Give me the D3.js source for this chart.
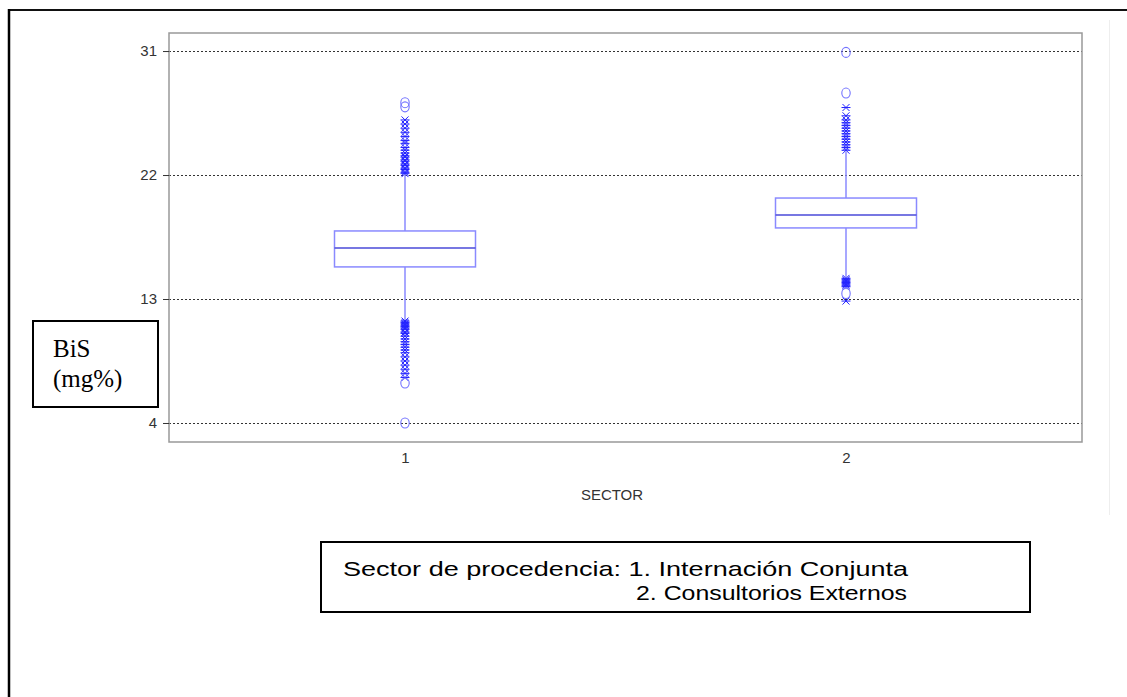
<!DOCTYPE html>
<html>
<head>
<meta charset="utf-8">
<script src="https://cdn.jsdelivr.net/npm/d3@7/dist/d3.min.js"></script>
<style>
  html, body { margin: 0; padding: 0; background: #fff; }
  svg { display: block; }
</style>
</head>
<body>
<svg id="chart" width="1127" height="697"></svg>
<script>
// ---- data ----
const categories = ["1", "2"];
const yTicks = [4, 13, 22, 31];
// box statistics per sector
const q1 = [15.33, 18.16];
const median = [16.70, 19.10];
const q3 = [17.94, 20.33];
const whiskerLow = [11.48, 14.6];
const whiskerHigh = [22.0, 23.7];
// outside values (asterisks)
const starsSector1 = [22.1, 22.2, 22.4, 22.5, 22.7, 22.8, 23.0, 23.1, 23.3, 23.4, 23.6, 23.8, 24.0, 24.3, 24.5, 24.8, 25.1, 25.4, 25.7, 26.0,
                      11.4, 11.3, 11.2, 11.1, 11.0, 10.9, 10.8, 10.6, 10.5, 10.3, 10.1, 9.9, 9.7, 9.5, 9.3, 9.1, 8.8, 8.5, 8.2, 7.9, 7.6, 7.3];
const starsSector2 = [23.8, 24.0, 24.2, 24.4, 24.6, 24.8, 25.0, 25.2, 25.4, 25.6, 25.8, 26.0, 26.3, 26.9,
                      14.5, 14.4, 14.3, 14.2, 14.1, 14.0, 13.9, 12.85];
// far-out values (circles)
const circlesSector1 = [27.25, 26.95, 6.9, 4.0];
const circlesSector2 = [30.9, 27.95, 13.4];

const stars = [starsSector1, starsSector2];
const circles = [circlesSector1, circlesSector2];

// ---- layout ----
const svg = d3.select("#chart");
const plot = { left: 169, right: 1082, top: 33, bottom: 442 };

const y = d3.scaleLinear().domain([2.62, 32.31]).range([plot.bottom, plot.top]);
const x = d3.scalePoint().domain(categories).range([405, 846]);
const boxW = 141;
const sans = "Liberation Sans, Arial, sans-serif";
const serif = "Liberation Serif, Times New Roman, serif";

// outer page frame
svg.append("line").attr("x1", 8).attr("x2", 1127).attr("y1", 10).attr("y2", 10)
  .attr("stroke", "#111").attr("stroke-width", 2.2);
svg.append("line").attr("x1", 9).attr("x2", 9).attr("y1", 9).attr("y2", 697)
  .attr("stroke", "#000").attr("stroke-width", 2.5);
svg.append("line").attr("x1", 1109.5).attr("x2", 1109.5).attr("y1", 20).attr("y2", 515)
  .attr("stroke", "#eee").attr("stroke-width", 1);

// gridlines
svg.append("g").selectAll("line").data(yTicks).join("line")
  .attr("x1", plot.left).attr("x2", plot.right)
  .attr("y1", d => Math.round(y(d)) + 0.5).attr("y2", d => Math.round(y(d)) + 0.5)
  .attr("stroke", "#333").attr("stroke-width", 1).attr("stroke-dasharray", "2,2");

// plot border
svg.append("rect").attr("x", plot.left).attr("y", plot.top)
  .attr("width", plot.right - plot.left).attr("height", plot.bottom - plot.top)
  .attr("fill", "none").attr("stroke", "#999").attr("stroke-width", 1.5);

// y axis
const yAxis = d3.axisLeft(y).tickValues(yTicks).tickSize(6).tickPadding(6).tickFormat(d3.format("d"));
const gy = svg.append("g").attr("transform", `translate(${plot.left},0)`).call(yAxis);
gy.select(".domain").remove();
gy.selectAll(".tick line").attr("stroke", "#333");
gy.selectAll(".tick text").attr("font-family", sans)
  .attr("font-size", 15).attr("fill", "#333");

// x axis
const xAxis = d3.axisBottom(x).tickSize(0).tickPadding(10);
const gx = svg.append("g").attr("transform", `translate(0,${plot.bottom})`).call(xAxis);
gx.select(".domain").remove();
gx.selectAll(".tick text").attr("font-family", sans)
  .attr("font-size", 15).attr("fill", "#333");

svg.append("text").attr("x", 612).attr("y", 500).attr("text-anchor", "middle")
  .attr("font-family", sans).attr("font-size", 15)
  .attr("fill", "#333").text("SECTOR");

// boxes
const boxColor = "#8a8aff";
const g = svg.append("g");
categories.forEach((c, i) => {
  const cx = x(c);
  g.append("line").attr("x1", cx).attr("x2", cx).attr("y1", y(q3[i])).attr("y2", y(whiskerHigh[i]))
    .attr("stroke", boxColor).attr("stroke-width", 1.5);
  g.append("line").attr("x1", cx).attr("x2", cx).attr("y1", y(q1[i])).attr("y2", y(whiskerLow[i]))
    .attr("stroke", boxColor).attr("stroke-width", 1.5);
  g.append("rect").attr("x", cx - boxW / 2).attr("y", y(q3[i]))
    .attr("width", boxW).attr("height", y(q1[i]) - y(q3[i]))
    .attr("fill", "none").attr("stroke", boxColor).attr("stroke-width", 1.5);
  g.append("line").attr("x1", cx - boxW / 2).attr("x2", cx + boxW / 2)
    .attr("y1", y(median[i])).attr("y2", y(median[i]))
    .attr("stroke", "#4a4ad8").attr("stroke-width", 1.5);
  const starPath = "M-4.5,0H4.5M-3.5,-3.5L3.5,3.5M-3.5,3.5L3.5,-3.5";
  g.append("g").selectAll("path").data(stars[i]).join("path")
    .attr("transform", d => `translate(${cx},${y(d)})`)
    .attr("d", starPath).attr("fill", "none")
    .attr("stroke", "#2222ff").attr("stroke-width", 1);
  g.append("g").selectAll("ellipse").data(circles[i]).join("ellipse")
    .attr("cx", cx).attr("cy", d => y(d)).attr("rx", 4.2).attr("ry", 5)
    .attr("fill", "none").attr("stroke", "#7373ff").attr("stroke-width", 1.1);
});

// y label box
svg.append("rect").attr("x", 33).attr("y", 321).attr("width", 125).attr("height", 86)
  .attr("fill", "#fff").attr("stroke", "#000").attr("stroke-width", 2);
svg.append("text").attr("x", 53).attr("y", 357)
  .attr("font-family", serif).attr("font-size", 25)
  .attr("fill", "#000").text("BiS");
svg.append("text").attr("x", 53).attr("y", 387)
  .attr("font-family", serif).attr("font-size", 25)
  .attr("fill", "#000").text("(mg%)");

// legend box
svg.append("rect").attr("x", 321).attr("y", 542).attr("width", 709).attr("height", 70)
  .attr("fill", "#fff").attr("stroke", "#000").attr("stroke-width", 2);
svg.append("text").attr("x", 343).attr("y", 576)
  .attr("font-family", sans).attr("font-size", 21)
  .attr("textLength", 565).attr("lengthAdjust", "spacingAndGlyphs")
  .attr("fill", "#000").text("Sector de procedencia: 1. Internación Conjunta");
svg.append("text").attr("x", 636).attr("y", 600)
  .attr("font-family", sans).attr("font-size", 21)
  .attr("textLength", 271).attr("lengthAdjust", "spacingAndGlyphs")
  .attr("fill", "#000").text("2. Consultorios Externos");
</script>
</body>
</html>
